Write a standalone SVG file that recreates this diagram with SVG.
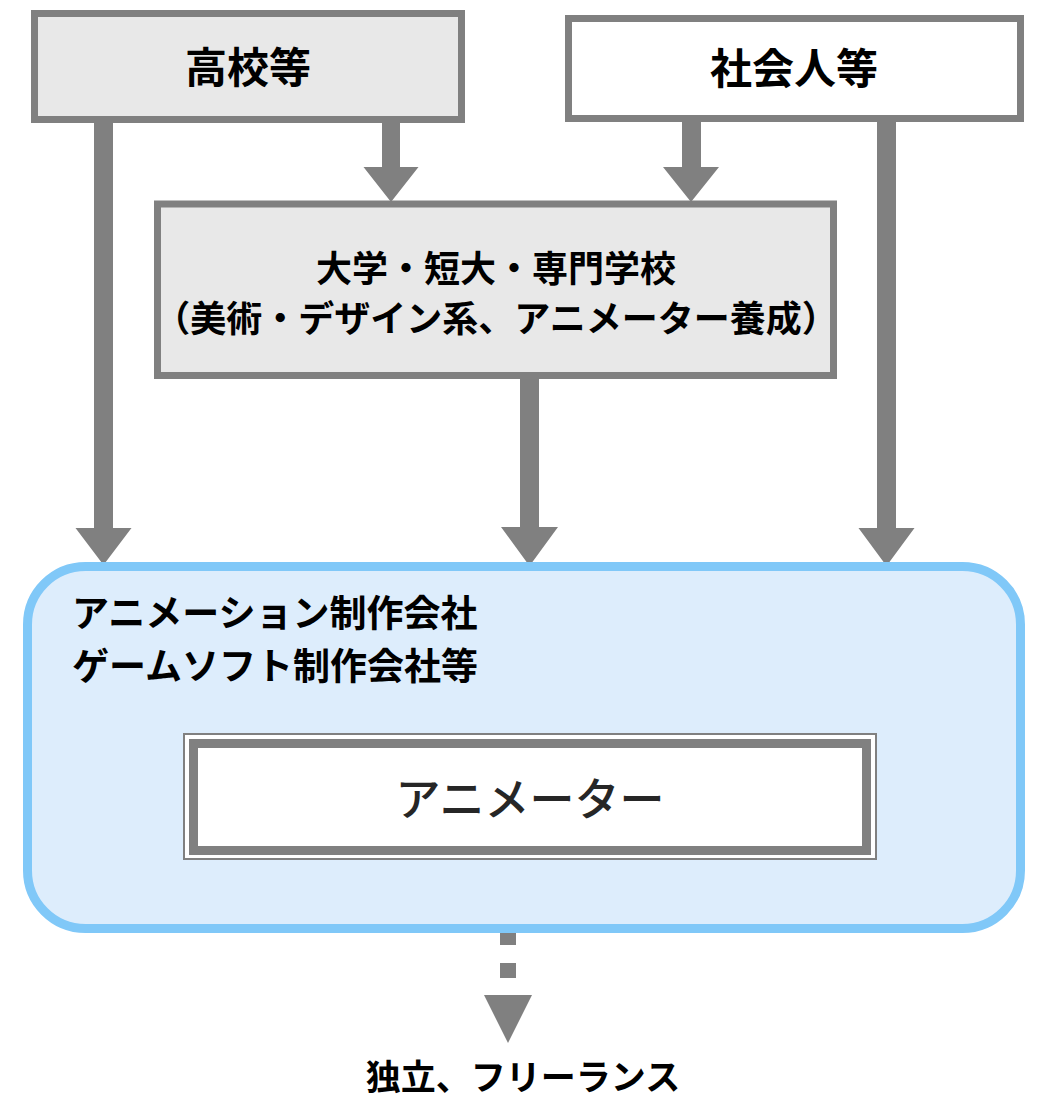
<svg xmlns="http://www.w3.org/2000/svg" width="1048" height="1100" viewBox="0 0 1048 1100">
<style>
.box{stroke:#808080;stroke-width:7}
.t{font-family:"Noto Sans CJK JP","Noto Sans",sans-serif;font-weight:700;fill:#000;text-anchor:middle}
.arr{fill:#808080}
</style>
<rect width="1048" height="1100" fill="#fff"/>
<g id="connectors">
  <path class="arr" d="M94,122 H113 V528 H131.5 L103.5,565 L75.5,528 H94 Z"/>
  <path class="arr" d="M382,122 H400 V167 H418.5 L391,202 L363.5,167 H382 Z"/>
  <path class="arr" d="M682,121 H701 V167 H719 L691,202 L663,167 H682 Z"/>
  <path class="arr" d="M877,121 H896 V528 H914.5 L886.5,566 L858.5,528 H877 Z"/>
  <path class="arr" d="M520,378 H539 V527 H558 L529.5,566 L501,527 H520 Z"/>
  <rect class="arr" x="500" y="929" width="16" height="16"/>
  <rect class="arr" x="500" y="963" width="16" height="15"/>
  <path class="arr" d="M484,995 H532 L508,1043 Z"/>
</g>
<g id="node-koukou">
  <rect class="box" x="34.5" y="13.5" width="427" height="106" fill="#e8e8e8"/>
  <text class="t" x="248" y="83" font-size="42">高校等</text>
</g>
<g id="node-shakaijin">
  <rect class="box" x="568.5" y="18.5" width="452" height="100" fill="#fff"/>
  <text class="t" x="794" y="84" font-size="42">社会人等</text>
</g>
<g id="node-daigaku">
  <rect class="box" x="157.5" y="204" width="676" height="171.5" fill="#e8e8e8"/>
  <text class="t" x="496" y="282" font-size="36">大学・短大・専門学校</text>
  <text class="t" x="496" y="332" font-size="36">（美術・デザイン系、アニメーター養成）</text>
</g>
<g id="node-company">
  <rect x="27.5" y="566.5" width="993" height="362" rx="58" ry="58" fill="#ddedfc" stroke="#80c8f8" stroke-width="9"/>
  <text class="t" x="72" y="627" font-size="37" style="text-anchor:start">アニメーション制作会社</text>
  <text class="t" x="72" y="680" font-size="37" style="text-anchor:start">ゲームソフト制作会社等</text>
</g>
<g id="node-animator">
  <rect x="184" y="734" width="692" height="125" fill="#fff" stroke="#808080" stroke-width="2"/>
  <rect x="193.5" y="743.5" width="673" height="107" fill="#fff" stroke="#808080" stroke-width="9"/>
  <text x="530" y="816" font-size="45" font-family="Noto Sans CJK JP, Noto Sans, sans-serif" font-weight="500" fill="#262626" text-anchor="middle">アニメーター</text>
</g>
<g id="node-freelance">
  <text class="t" x="523" y="1090" font-size="35">独立、フリーランス</text>
</g>
</svg>
